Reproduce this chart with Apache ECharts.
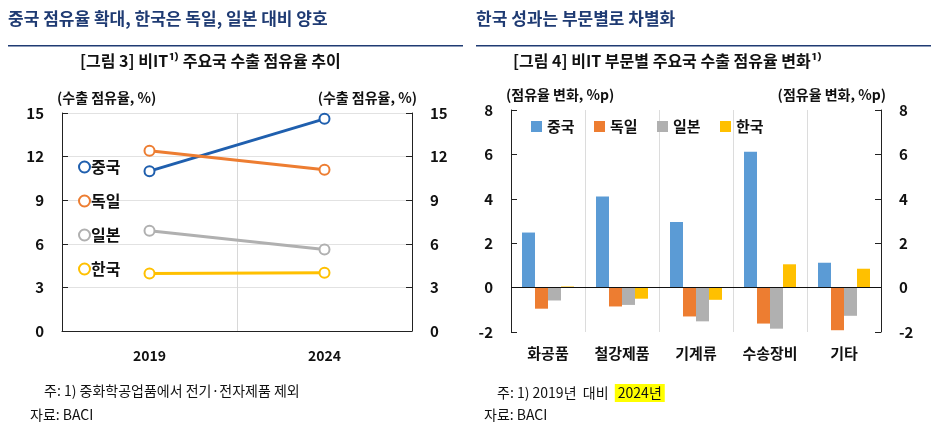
<!DOCTYPE html>
<html>
<head>
<meta charset="utf-8">
<script src="https://cdn.jsdelivr.net/npm/echarts@6/dist/echarts.min.js"></script>
<style>
  html, body { margin: 0; padding: 0; background: #fff; }
  #chart { width: 937px; height: 438px; }
</style>
</head>
<body>
<div id="chart"></div>
<script>
// left: share trend
const years = ['2019', '2024'];
const shareChina = [11.0, 14.6];
const shareGermany = [12.4, 11.1];
const shareJapan = [6.9, 5.6];
const shareKorea = [3.95, 4.0];

// right: change by sector
const sectors = ['화공품', '철강제품', '기계류', '수송장비', '기타'];
const chgChina = [2.48, 4.1, 2.95, 6.12, 1.12];
const chgGermany = [-0.95, -0.85, -1.3, -1.62, -1.92];
const chgJapan = [-0.58, -0.78, -1.52, -1.85, -1.27];
const chgKorea = [0.05, -0.5, -0.55, 1.05, 0.85];

const FONT = '"Noto Sans CJK KR", sans-serif';
const C_BLUE_LINE = '#1f5fae';
const C_BLUE = '#5b9bd5';
const C_ORANGE = '#ed7d31';
const C_GRAY = '#b0b0b0';
const C_YELLOW = '#ffc000';

const chart = echarts.init(document.getElementById('chart'));

const lineSeries = (name, data, color) => ({
  name, type: 'line', data, xAxisIndex: 0, yAxisIndex: 0,
  symbol: 'emptyCircle', symbolSize: 10,
  lineStyle: { color, width: 3 },
  itemStyle: { color, borderWidth: 2 }
});
const barSeries = (name, data, color) => ({
  name, type: 'bar', data, xAxisIndex: 1, yAxisIndex: 2,
  itemStyle: { color }, barWidth: 13, barGap: '0%'
});

const valAxis = (grid, pos, min, max, interval, name, showGrid) => ({
  type: 'value', gridIndex: grid, position: pos, min, max, interval,
  name, nameGap: 8,
  nameTextStyle: { fontFamily: FONT, fontSize: 14, fontWeight: 'bold', color: '#111',
    align: pos === 'left' ? 'left' : 'right', padding: pos === 'left' ? [0, 0, 0, -5] : [0, -5, 0, 0] },
  axisLine: { show: true, lineStyle: { color: '#222' } },
  axisTick: { show: true, inside: true, length: 6, lineStyle: { color: '#222' } },
  axisLabel: { fontFamily: FONT, fontSize: 15, fontWeight: 'bold', color: '#111', margin: 18 },
  splitLine: { show: showGrid, lineStyle: { color: '#e2e2e2' } }
});

chart.setOption({
  animation: false,
  textStyle: { fontFamily: FONT },
  grid: [
    { left: 62, top: 113, width: 350, height: 218 },
    { left: 511, top: 110, width: 370, height: 222 }
  ],
  legend: [
    {
      data: ['중국', '독일', '일본', '한국'].map(n => ({ name: n, icon: 'emptyCircle' })),
      orient: 'vertical', left: 73, top: 152, itemGap: 14, itemWidth: 11, itemHeight: 11,
      textStyle: { fontFamily: FONT, fontSize: 16, fontWeight: 'bold', color: '#111',
        padding: [0, 0, 0, -4], lineHeight: 20 }
    },
    {
      data: ['중국 ', '독일 ', '일본 ', '한국 '],
      left: 526, top: 114, itemGap: 16, itemWidth: 11, itemHeight: 11, icon: 'rect',
      textStyle: { fontFamily: FONT, fontSize: 15, fontWeight: 'bold', color: '#111' }
    }
  ],
  xAxis: [
    {
      type: 'category', gridIndex: 0, data: years,
      axisLine: { lineStyle: { color: '#222' } }, axisTick: { show: false },
      axisLabel: { fontFamily: FONT, fontSize: 14, fontWeight: 'bold', color: '#111', margin: 18 },
      splitLine: { show: true, lineStyle: { color: '#d8d8d8' } }
    },
    {
      type: 'category', gridIndex: 1, data: sectors,
      axisLine: { show: false, onZero: false }, axisTick: { show: false },
      axisLabel: { fontFamily: FONT, fontSize: 15, fontWeight: 'bold', color: '#111', margin: 14 },
      splitLine: { show: true, lineStyle: { color: '#dcdcdc' } }
    }
  ],
  yAxis: [
    valAxis(0, 'left', 0, 15, 3, '(수출 점유율, %)', true),
    valAxis(0, 'right', 0, 15, 3, '(수출 점유율, %)', false),
    valAxis(1, 'left', -2, 8, 2, '(점유율 변화, %p)', false),
    valAxis(1, 'right', -2, 8, 2, '(점유율 변화, %p)', false)
  ],
  series: [
    lineSeries('중국', shareChina, C_BLUE_LINE),
    lineSeries('독일', shareGermany, C_ORANGE),
    lineSeries('일본', shareJapan, C_GRAY),
    lineSeries('한국', shareKorea, C_YELLOW),
    Object.assign(barSeries('중국 ', chgChina, C_BLUE), {
      markLine: { silent: true, symbol: 'none', label: { show: false },
        lineStyle: { color: '#111', type: 'solid', width: 1 }, data: [{ yAxis: 0 }] }
    }),
    barSeries('독일 ', chgGermany, C_ORANGE),
    barSeries('일본 ', chgJapan, C_GRAY),
    barSeries('한국 ', chgKorea, C_YELLOW),
    { type: 'line', xAxisIndex: 1, yAxisIndex: 3, data: [] }
  ],
  graphic: [
    { type: 'text', left: 8, top: 10, style: { text: '중국 점유율 확대, 한국은 독일, 일본 대비 양호',
      font: 'bold 17px ' + FONT, fill: '#1f3b73' } },
    { type: 'text', left: 476, top: 10, style: { text: '한국 성과는 부문별로 차별화',
      font: 'bold 17px ' + FONT, fill: '#1f3b73' } },
    { type: 'rect', shape: { x: 8, y: 45, width: 455, height: 1.5 }, style: { fill: '#1f3b73' } },
    { type: 'rect', shape: { x: 476, y: 45, width: 455, height: 1.5 }, style: { fill: '#1f3b73' } },
    { type: 'text', left: 80, top: 53, style: { text: '[그림 3] 비IT¹⁾ 주요국 수출 점유율 추이',
      font: 'bold 16px ' + FONT, fill: '#111' } },
    { type: 'text', left: 513, top: 53, style: { text: '[그림 4] 비IT 부문별 주요국 수출 점유율 변화¹⁾',
      font: 'bold 16px ' + FONT, fill: '#111' } },
    { type: 'text', left: 44, top: 384, style: { text: '주: 1) 중화학공업품에서 전기·전자제품 제외',
      font: '14px ' + FONT, fill: '#111' } },
    { type: 'text', left: 30, top: 408, style: { text: '자료: BACI', font: '14px ' + FONT, fill: '#111' } },
    { type: 'text', left: 497, top: 384, style: {
      text: '주: 1) 2019년  대비  {h|2024년}',
      font: '14px ' + FONT, fill: '#111',
      rich: { h: { backgroundColor: '#ffff00', fontSize: 14, fontFamily: FONT, padding: [2, 3, 2, 3] } }
    } },
    { type: 'text', left: 484, top: 408, style: { text: '자료: BACI', font: '14px ' + FONT, fill: '#111' } }
  ]
});
</script>
</body>
</html>
